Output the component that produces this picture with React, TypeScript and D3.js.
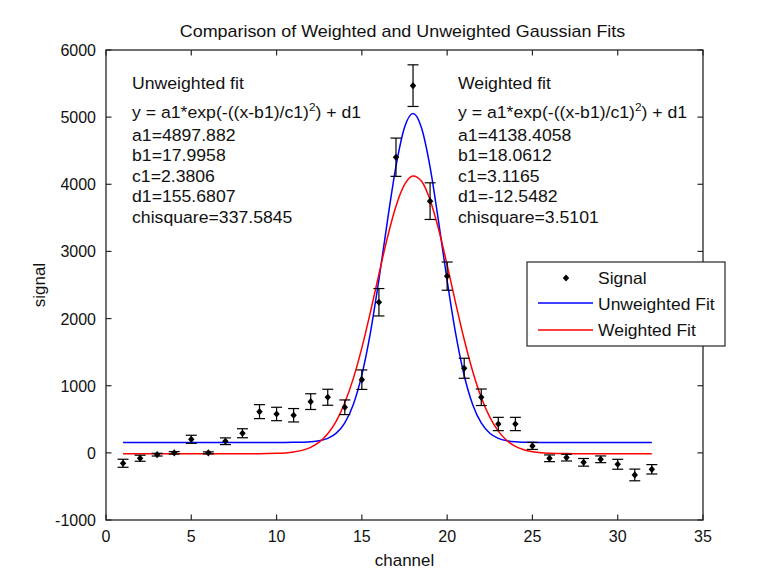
import React from 'react';
import * as d3 from 'd3';

const channels = [1,2,3,4,5,6,7,8,9,10,11,12,13,14,15,16,17,18,19,20,21,22,23,24,25,26,27,28,29,30,31,32];
const signal = [-155,-80,-27,0,202,0,173,292,614,579,560,763,828,679,1090,2243,4403,5469,3749,2632,1260,828,430,430,103,-81,-71,-141,-96,-170,-329,-245];
const signalErr = [60,45,20,18,60,15,50,67,104,100,100,117,119,109,145,204,285,310,273,210,149,123,99,99,52,50,50,57,50,74,87,70];

const fitX = [1,2,3,4,5,6,7,8,9,10,10.5,11,11.5,12,12.5,13,13.5,14,14.5,15,15.5,16,16.5,17,17.5,18,18.5,19,19.5,20,20.5,21,21.5,22,22.5,23,23.5,24,24.5,25,25.5,26,27,28,29,30,31,32];
const unweightedFit = [156,156,156,156,156,156,156,156,156,156,156,157,159,164,179,216,294,448,722,1161,1788,2581,3456,4267,4845,5054,4838,4255,3441,2567,1775,1152,717,445,292,215,179,164,159,157,156,156,156,156,156,156,156,156];
const weightedFit = [-13,-13,-13,-13,-13,-13,-13,-12,-12,-7,-1,12,37,82,159,284,473,745,1109,1564,2094,2660,3208,3673,3994,4124,4045,3767,3331,2798,2231,1688,1212,825,532,323,184,97,45,17,1,-6,-11,-12,-13,-13,-13,-13];

const xTicks = [0,5,10,15,20,25,30,35];
const yTicks = [-1000,0,1000,2000,3000,4000,5000,6000];

const title = 'Comparison of Weighted and Unweighted Gaussian Fits';
const xLabel = 'channel';
const yLabel = 'signal';
const unweightedText = ['Unweighted fit', 'a1=4897.882', 'b1=17.9958', 'c1=2.3806', 'd1=155.6807', 'chisquare=337.5845'];
const weightedText = ['Weighted fit', 'a1=4138.4058', 'b1=18.0612', 'c1=3.1165', 'd1=-12.5482', 'chisquare=3.5101'];
const legendItems = ['Signal', 'Unweighted Fit', 'Weighted Fit'];

const W = 763, H = 579;
const M = { left: 106, right: 60, top: 50, bottom: 59 };
const FONT = 'Arial, "Liberation Sans", Helvetica, sans-serif';
const BLUE = '#0000ff';
const RED = '#ff0000';
const AX = '#262626';

function diamond(x: number, y: number, r = 3.2) {
  return `M${x},${y - r - 0.4}L${x + r},${y}L${x},${y + r + 0.4}L${x - r},${y}Z`;
}

function FitBlock({ x, lines }: { x: number; lines: string[] }) {
  const fs = 16.5;
  return (
    <g fontFamily={FONT} fontSize={fs} fill="#111" transform={`translate(${x},0) scale(1.07,1)`}>
      <text x={0} y={89}>{lines[0]}</text>
      <text x={0} y={118}>
        y = a1*exp(-((x-b1)/c1)<tspan dy={-7} fontSize={11}>2</tspan><tspan dy={7}>) + d1</tspan>
      </text>
      {lines.slice(1).map((l, i) => (
        <text key={i} x={0} y={141 + i * 20.5}>{l}</text>
      ))}
    </g>
  );
}

export default function App() {
  const x = d3.scaleLinear().domain([0, 35]).range([M.left, W - M.right]);
  const y = d3.scaleLinear().domain([-1000, 6000]).range([H - M.bottom, M.top]);
  const line = d3.line<number>().x((_, i) => x(fitX[i])).y(d => y(d)).curve(d3.curveMonotoneX);
  const x0 = x(0), x1 = x(35), y0 = y(-1000), y1 = y(6000);
  const tl = 5.5;
  const cap = 5.5;
  const cx = (x0 + x1) / 2;

  return (
    <svg width={W} height={H} style={{ position: 'fixed', left: 0, top: 0, background: '#fff' }}>
      <rect x={0} y={0} width={W} height={H} fill="#fff" />
      <path d={line(unweightedFit) || ''} fill="none" stroke={BLUE} strokeWidth={1.5} />
      <path d={line(weightedFit) || ''} fill="none" stroke={RED} strokeWidth={1.5} />
      <g stroke="#000" strokeWidth={1.2}>
        {channels.map((c, i) => {
          const px = x(c);
          const lo = y(signal[i] - signalErr[i]);
          const hi = y(signal[i] + signalErr[i]);
          return (
            <g key={c}>
              <line x1={px} x2={px} y1={lo} y2={hi} />
              <line x1={px - cap} x2={px + cap} y1={lo} y2={lo} />
              <line x1={px - cap} x2={px + cap} y1={hi} y2={hi} />
            </g>
          );
        })}
      </g>
      <g fill="#000">
        {channels.map((c, i) => (
          <path key={c} d={diamond(x(c), y(signal[i]))} />
        ))}
      </g>
      <rect x={x0} y={y1} width={x1 - x0} height={y0 - y1} fill="none" stroke={AX} strokeWidth={1.3} />
      <g stroke={AX} strokeWidth={1.2}>
        {xTicks.map(t => (
          <g key={t}>
            <line x1={x(t)} x2={x(t)} y1={y0} y2={y0 - tl} />
            <line x1={x(t)} x2={x(t)} y1={y1} y2={y1 + tl} />
          </g>
        ))}
        {yTicks.map(t => (
          <g key={t}>
            <line x1={x0} x2={x0 + tl} y1={y(t)} y2={y(t)} />
            <line x1={x1} x2={x1 - tl} y1={y(t)} y2={y(t)} />
          </g>
        ))}
      </g>
      <g fontFamily={FONT} fontSize={16} fill="#111">
        {xTicks.map(t => (
          <text key={t} x={x(t)} y={y0 + 22} textAnchor="middle">{t}</text>
        ))}
        {yTicks.map(t => (
          <text key={t} x={x0 - 10} y={y(t) + 6} textAnchor="end">{t}</text>
        ))}
        <g transform={`translate(${cx},566) scale(1.06,1)`}>
          <text x={0} y={0} textAnchor="middle">{xLabel}</text>
        </g>
        <text transform={`translate(45,${(y0 + y1) / 2}) rotate(-90) scale(1.06,1)`} textAnchor="middle">{yLabel}</text>
        <g transform={`translate(${cx - 2},37) scale(1.12,1)`}>
          <text x={0} y={0} textAnchor="middle">{title}</text>
        </g>
      </g>
      <FitBlock x={132} lines={unweightedText} />
      <FitBlock x={458} lines={weightedText} />
      <g>
        <rect x={527} y={262} width={198} height={84} fill="#fff" stroke={AX} strokeWidth={1.2} />
        <path d={diamond(566, 278)} fill="#000" />
        <line x1={538} x2={593} y1={303} y2={303} stroke={BLUE} strokeWidth={1.5} />
        <line x1={538} x2={593} y1={330} y2={330} stroke={RED} strokeWidth={1.5} />
        <g fontFamily={FONT} fontSize={16.5} fill="#111">
          {legendItems.map((l, i) => (
            <g key={l} transform={`translate(598,${284 + i * 26}) scale(1.06,1)`}>
              <text x={0} y={0}>{l}</text>
            </g>
          ))}
        </g>
      </g>
    </svg>
  );
}
